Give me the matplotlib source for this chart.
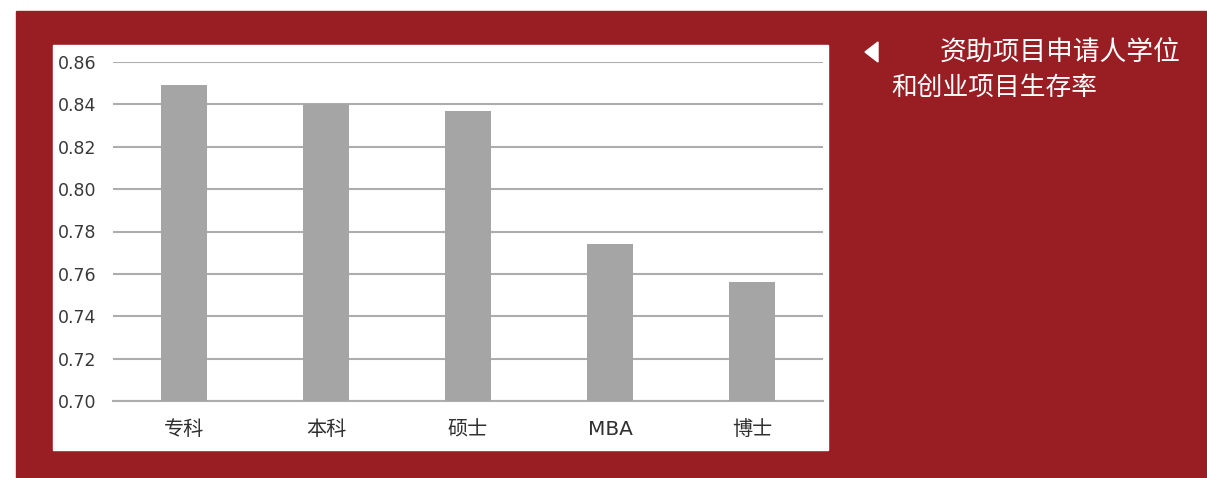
import matplotlib
matplotlib.use("Agg")
import matplotlib.pyplot as plt
from matplotlib.patches import Rectangle, Polygon

categories = ["专科", "本科", "硕士", "MBA", "博士"]
survival = [0.849, 0.840, 0.837, 0.774, 0.756]
yticks = [0.70, 0.72, 0.74, 0.76, 0.78, 0.80, 0.82, 0.84, 0.86]
title_lines = ["资助项目申请人学位", "和创业项目生存率"]

RED = "#991e24"
BAR = "#a5a5a5"
GRID = "#adadad"
W, H = 1207, 478

fig = plt.figure(figsize=(W / 100, H / 100), dpi=100)
fig.patch.set_facecolor("white")

# red panel and white chart box
fig.add_artist(Rectangle((16 / W, 0), 1 - 16 / W, 1 - 11 / H,
                         transform=fig.transFigure, color=RED, zorder=-2))
fig.add_artist(Rectangle((53 / W, 1 - 450 / H), (828 - 53) / W, (450 - 45) / H,
                         transform=fig.transFigure, color="white", zorder=-1))

ax = fig.add_axes([113 / W, 1 - 401 / H, (823 - 113) / W, (401 - 62) / H])
ax.set_zorder(2)
ax.set_facecolor("none")
x = range(len(categories))
ax.bar(x, survival, width=0.32, color=BAR, zorder=3)
ax.set_ylim(0.70, 0.86)
ax.set_xlim(-0.5, len(categories) - 0.5)
ax.set_yticks(yticks)
ax.set_yticklabels([f"{v:.2f}" for v in yticks], family="DejaVu Sans",
                   fontsize=12.5, color="#383838")
ax.set_xticks(list(x))
ax.set_xticklabels(categories, family=["DejaVu Sans", "Noto Sans CJK SC"],
                   fontsize=14.5, color="#303030")
ax.tick_params(axis="both", length=0)
ax.tick_params(axis="y", pad=12)
ax.tick_params(axis="x", pad=14)
ax.grid(axis="y", color=GRID, linewidth=1.5, zorder=0)
for side in ["top", "right", "left"]:
    ax.spines[side].set_visible(False)
ax.spines["bottom"].set_color(GRID)
ax.spines["bottom"].set_linewidth(1.5)

# right-hand caption with a small left-pointing marker
tri = [(865, 52), (878, 42), (878, 62)]
fig.add_artist(Polygon([(px / W, 1 - py / H) for px, py in tri], closed=True,
                       transform=fig.transFigure, color="white", zorder=3))
fig.text(940 / W, 1 - 52 / H, title_lines[0], family="Noto Sans CJK SC",
         fontsize=19.3, color="white", va="center", ha="left")
fig.text(891 / W, 1 - 88 / H, title_lines[1], family="Noto Sans CJK SC",
         fontsize=18.5, color="white", va="center", ha="left")

fig.savefig("out.png", dpi=100)
